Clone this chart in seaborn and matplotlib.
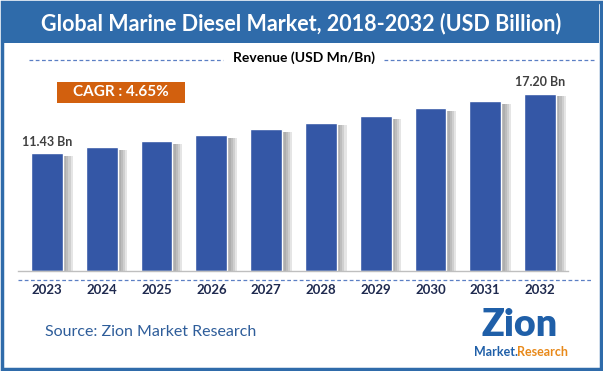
import matplotlib
matplotlib.use("Agg")
import matplotlib.pyplot as plt
import matplotlib.patches as mpatches
import matplotlib.patheffects as pe
import seaborn as sns
import pandas as pd

years = ["2023", "2024", "2025", "2026", "2027", "2028", "2029", "2030", "2031", "2032"]
revenue = [11.43, 12.0, 12.6, 13.2, 13.8, 14.4, 15.05, 15.8, 16.5, 17.20]
value_labels = {0: "11.43 Bn", 9: "17.20 Bn"}

title = "Global Marine Diesel Market, 2018-2032 (USD Billion)"
subtitle = "Revenue (USD Mn/Bn)"
cagr = "CAGR : 4.65%"
source = "Source: Zion Market Research"

BLUE = "#2F6BAA"
BAR = "#3457A6"
ORANGE = "#D2600E"

sns.set_theme(style="white")
plt.rcParams['font.family'] = ['Lato', 'DejaVu Sans']

W, H = 603, 371
fig = plt.figure(figsize=(W / 100, H / 100), dpi=100)

def fx(px):
    return px / W

def fy(py):
    return 1 - py / H

# outer border and title banner
fig.patches.append(mpatches.Rectangle((fx(2), fy(369)), fx(599), 367 / H, transform=fig.transFigure,
                                      fill=False, edgecolor=BLUE, linewidth=2.5))
fig.patches.append(mpatches.Rectangle((fx(4), fy(43)), fx(595), 39 / H, transform=fig.transFigure,
                                      facecolor=BLUE, edgecolor="none"))
fig.text(0.5, fy(24), title, color="white", fontsize=15.5, fontweight="bold", ha="center", va="center")

# subtitle with dashed rules
fig.text(fx(304), fy(58), subtitle, color="black", fontsize=10, fontweight="bold", ha="center", va="center")
fig.add_artist(plt.Line2D([fx(29), fx(223)], [fy(60), fy(60)], color="#5B7FC4", lw=0.9, ls=(0, (3, 2))))
fig.add_artist(plt.Line2D([fx(384), fx(595)], [fy(60), fy(60)], color="#5B7FC4", lw=0.9, ls=(0, (3, 2))))

# bars
ax = fig.add_axes([fx(18), fy(271), fx(550), 201 / H])
df = pd.DataFrame({"year": years, "revenue": revenue})
sns.barplot(data=df, x="year", y="revenue", color=BAR, width=0.58, saturation=1, ax=ax)
soft_shadow = [pe.SimplePatchShadow(offset=(d, -2), shadow_rgbFace="#606060", alpha=0.16) for d in (7, 5.5, 4, 2.5)]
for bar in ax.patches:
    bar.set_path_effects(soft_shadow + [pe.Normal()])
ax.set_xlim(-0.53, 9.51)
ax.set_ylim(0, 19.5)
ax.set_xlabel("")
ax.set_ylabel("")
ax.set_yticks([])
ax.set_xticks([])
for s in ["top", "right", "left"]:
    ax.spines[s].set_visible(False)
ax.spines["bottom"].set_color("#BFBFBF")
ax.spines["bottom"].set_linewidth(1)

for i, lab in value_labels.items():
    ax.text(i, revenue[i] + 0.55, lab, ha="center", va="bottom", fontsize=9, fontweight="bold", color="#404040")

for i, y in enumerate(years):
    ax.text(i, -1.8, y, ha="center", va="center", fontsize=9.5, fontweight="bold", color="#1F2A4F")

fig.add_artist(plt.Line2D([fx(18), fx(592)], [fy(280), fy(280)], color="#5B7FC4", lw=0.9, ls=(0, (3, 2))))

# CAGR box
fig.patches.append(mpatches.Rectangle((fx(57), fy(103)), fx(128), 21 / H, transform=fig.transFigure,
                                      facecolor=ORANGE, edgecolor="none"))
fig.text(fx(121), fy(92.5), cagr, color="white", fontsize=11, fontweight="bold", ha="center", va="center")

# source and logo
fig.text(fx(45), fy(332), source, color="#2E5D9A", fontsize=11.5, ha="left", va="center")
fig.text(fx(520), fy(325), "Zion", color="#1F5FA8", fontsize=27, fontweight="heavy", ha="center", va="center")
fig.text(fx(496), fy(352), "Market.", color="#1F5FA8", fontsize=9, fontweight="bold", ha="center", va="center")
fig.text(fx(542), fy(352), "Research", color="#E8891A", fontsize=9, fontweight="bold", ha="center", va="center")

fig.savefig("out.png", dpi=100)
